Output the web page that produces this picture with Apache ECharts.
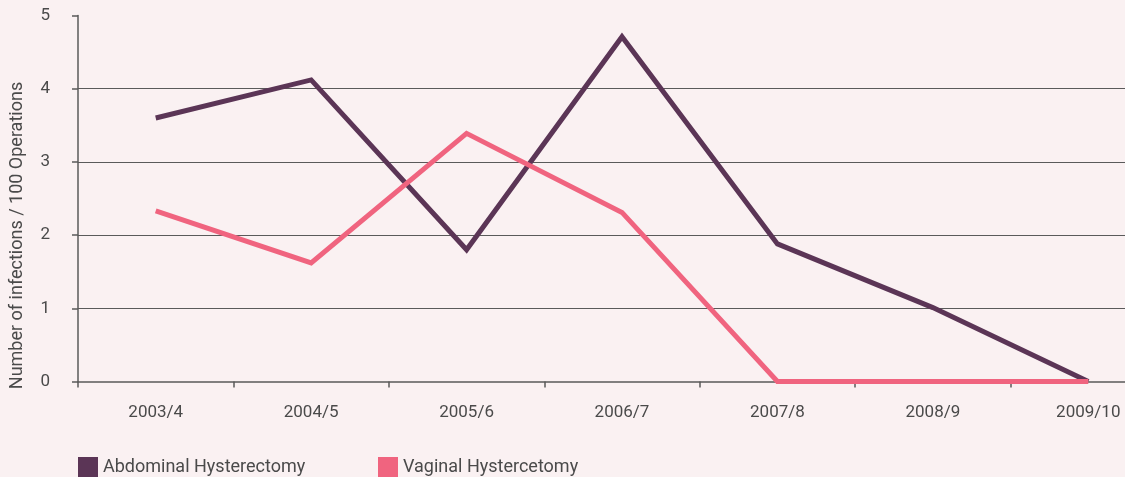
<!DOCTYPE html>
<html><head><meta charset="utf-8">
<script src="https://cdn.jsdelivr.net/npm/echarts@6/dist/echarts.min.js"></script>
<style>html,body{margin:0;padding:0;background:#faf1f2;}#c{width:1125px;height:477px;}</style>
</head><body><div id="c"></div>
<script>
const categories = ['2003/4','2004/5','2005/6','2006/7','2007/8','2008/9','2009/10'];
const abdominal = [3.6, 4.12, 1.8, 4.71, 1.88, 1.01, 0];
const vaginal = [2.33, 1.62, 3.39, 2.31, 0, 0, 0];
const gridValues = [1, 2, 3, 4];
const seriesNames = ['Abdominal Hysterectomy', 'Vaginal Hystercetomy'];
const yAxisTitle = 'Number of infections / 100 Operations';

const font = 'Roboto, "Noto Sans", sans-serif';
const axisColor = '#5a5a5a';
const legendBase = {
  top: 452, itemWidth: 20, itemHeight: 20, itemGap: 0, icon: 'rect',
  textStyle: {fontFamily: font, fontSize: 18, color: '#4a4a4a'}
};
const chart = echarts.init(document.getElementById('c'));
chart.setOption({
  backgroundColor: '#faf1f2',
  animation: false,
  grid: {left: 78, right: -41, top: 15.5, bottom: 95.5, outerBoundsMode: 'none', containLabel: false},
  legend: [
    Object.assign({}, legendBase, {left: 73, data: [seriesNames[0]]}),
    Object.assign({}, legendBase, {left: 373, data: [seriesNames[1]]})
  ],
  xAxis: {
    type: 'category', data: categories, boundaryGap: true,
    axisLine: {lineStyle: {color: axisColor, width: 1.5}},
    axisTick: {show: true, length: 6, inside: false, lineStyle: {color: axisColor, width: 1.5}},
    axisLabel: {fontFamily: font, fontSize: 17, color: '#4a4a4a', margin: 23},
    splitLine: {show: false}
  },
  yAxis: {
    type: 'value', min: 0, max: 5, interval: 1,
    name: yAxisTitle, nameLocation: 'middle', nameGap: 52, nameRotate: 90,
    nameTextStyle: {fontFamily: font, fontSize: 18, color: '#4a4a4a', padding: [0, 74, 0, 0]},
    axisLine: {show: true, lineStyle: {color: axisColor, width: 1.5}},
    axisTick: {show: true, length: 6, lineStyle: {color: axisColor, width: 1.5}},
    axisLabel: {fontFamily: font, fontSize: 17, color: '#4a4a4a', margin: 28},
    splitLine: {show: false}
  },
  series: [
    {
      name: seriesNames[0], type: 'line', data: abdominal, symbol: 'none',
      itemStyle: {color: '#5b3556'},
      lineStyle: {color: '#5b3556', width: 5, join: 'miter', cap: 'butt'},
      markLine: {
        silent: true, symbol: 'none', label: {show: false},
        lineStyle: {color: axisColor, width: 1.2, type: 'solid'},
        data: gridValues.map(v => ({yAxis: v})),
        z: 1
      },
      z: 3
    },
    {
      name: seriesNames[1], type: 'line', data: vaginal, symbol: 'none',
      itemStyle: {color: '#f0647f'},
      lineStyle: {color: '#f0647f', width: 5, join: 'miter', cap: 'butt'},
      z: 4
    }
  ]
});
</script></body></html>
